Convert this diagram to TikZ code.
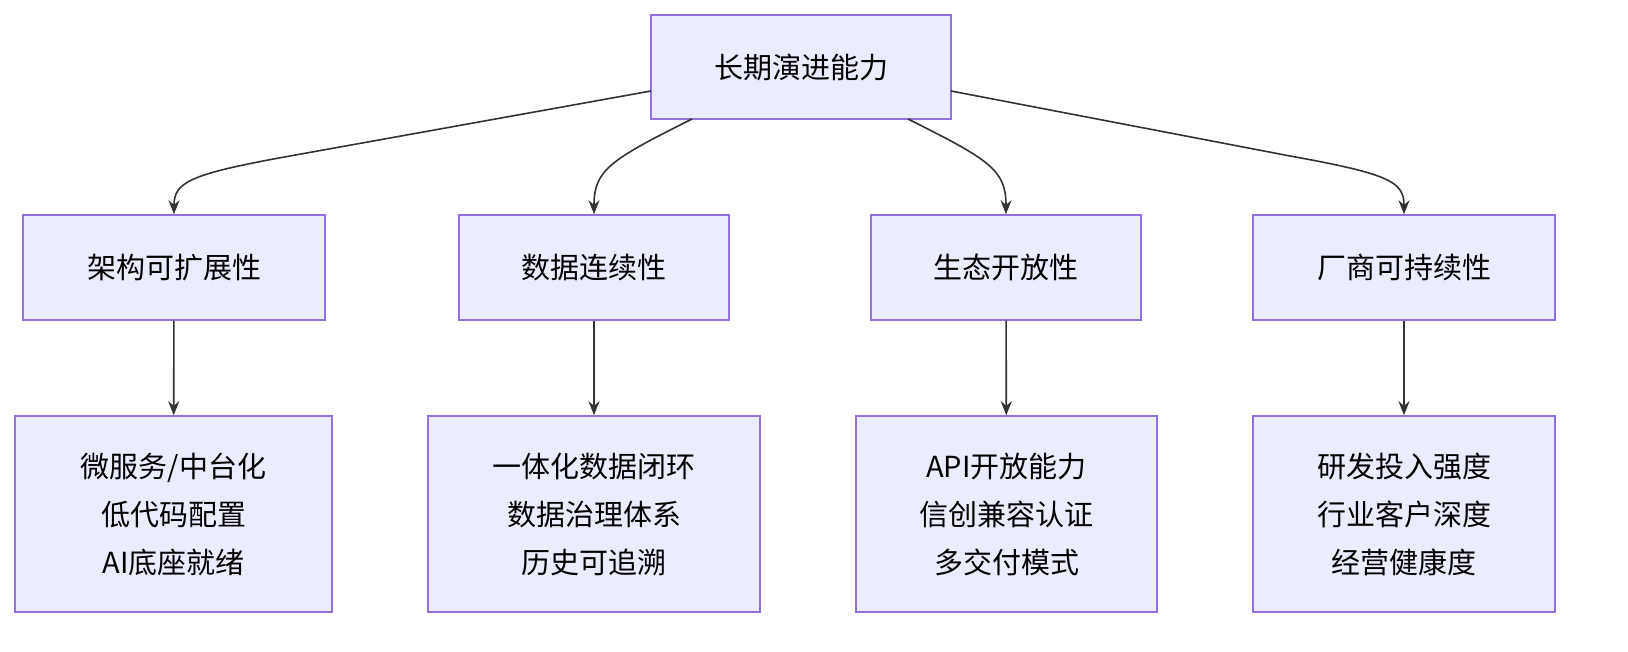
\documentclass[tikz,border=0pt]{standalone}
\usepackage{fontspec}
\setmainfont{Noto Sans CJK SC}
\usetikzlibrary{arrows.meta}
\definecolor{bx}{HTML}{ECECFF}
\definecolor{bd}{HTML}{9370DB}
\definecolor{ln}{HTML}{333333}
\begin{document}
\begin{tikzpicture}[x=0.5pt,y=-0.5pt,
 box/.style={draw=bd,fill=bx,line width=0.75pt,inner sep=0pt,font=\fontsize{14.5}{24}\selectfont,align=center},
 arr/.style={draw=ln,line width=0.8pt,-{Stealth[length=7pt,width=5.5pt]}}]
\useasboundingbox (0,0) rectangle (1628,652);
\node[box,minimum width=150pt,minimum height=52pt] (top) at (801,67) {长期演进能力};
\node[box,minimum width=151pt,minimum height=52.5pt] (a) at (174,267.5) {架构可扩展性};
\node[box,minimum width=135pt,minimum height=52.5pt] (b) at (594,267.5) {数据连续性};
\node[box,minimum width=135pt,minimum height=52.5pt] (c) at (1006,267.5) {生态开放性};
\node[box,minimum width=151pt,minimum height=52.5pt] (d) at (1404,267.5) {厂商可持续性};
\node[box,minimum width=158.5pt,minimum height=98pt] (a2) at (173.5,514) {微服务/中台化\\低代码配置\\AI底座就绪};
\node[box,minimum width=166pt,minimum height=98pt] (b2) at (594,514) {一体化数据闭环\\数据治理体系\\历史可追溯};
\node[box,minimum width=150.5pt,minimum height=98pt] (c2) at (1006.5,514) {API开放能力\\信创兼容认证\\多交付模式};
\node[box,minimum width=151pt,minimum height=98pt] (d2) at (1404,514) {研发投入强度\\行业客户深度\\经营健康度};
\coordinate (t1) at (651,91);
\coordinate (t2) at (692,119);
\coordinate (t3) at (908,119);
\coordinate (t4) at (951,91);
\draw[arr] (t1) -- (290,156) .. controls (190,174) and (174,182) .. (a.north);
\draw[arr] (t2) .. controls (610,160) and (594,170) .. (b.north);
\draw[arr] (t3) .. controls (990,160) and (1006,170) .. (c.north);
\draw[arr] (t4) -- (1290,156) .. controls (1390,174) and (1404,182) .. (d.north);
\draw[arr] (a) -- (a2);
\draw[arr] (b) -- (b2);
\draw[arr] (c) -- (c2);
\draw[arr] (d) -- (d2);
\end{tikzpicture}
\end{document}
